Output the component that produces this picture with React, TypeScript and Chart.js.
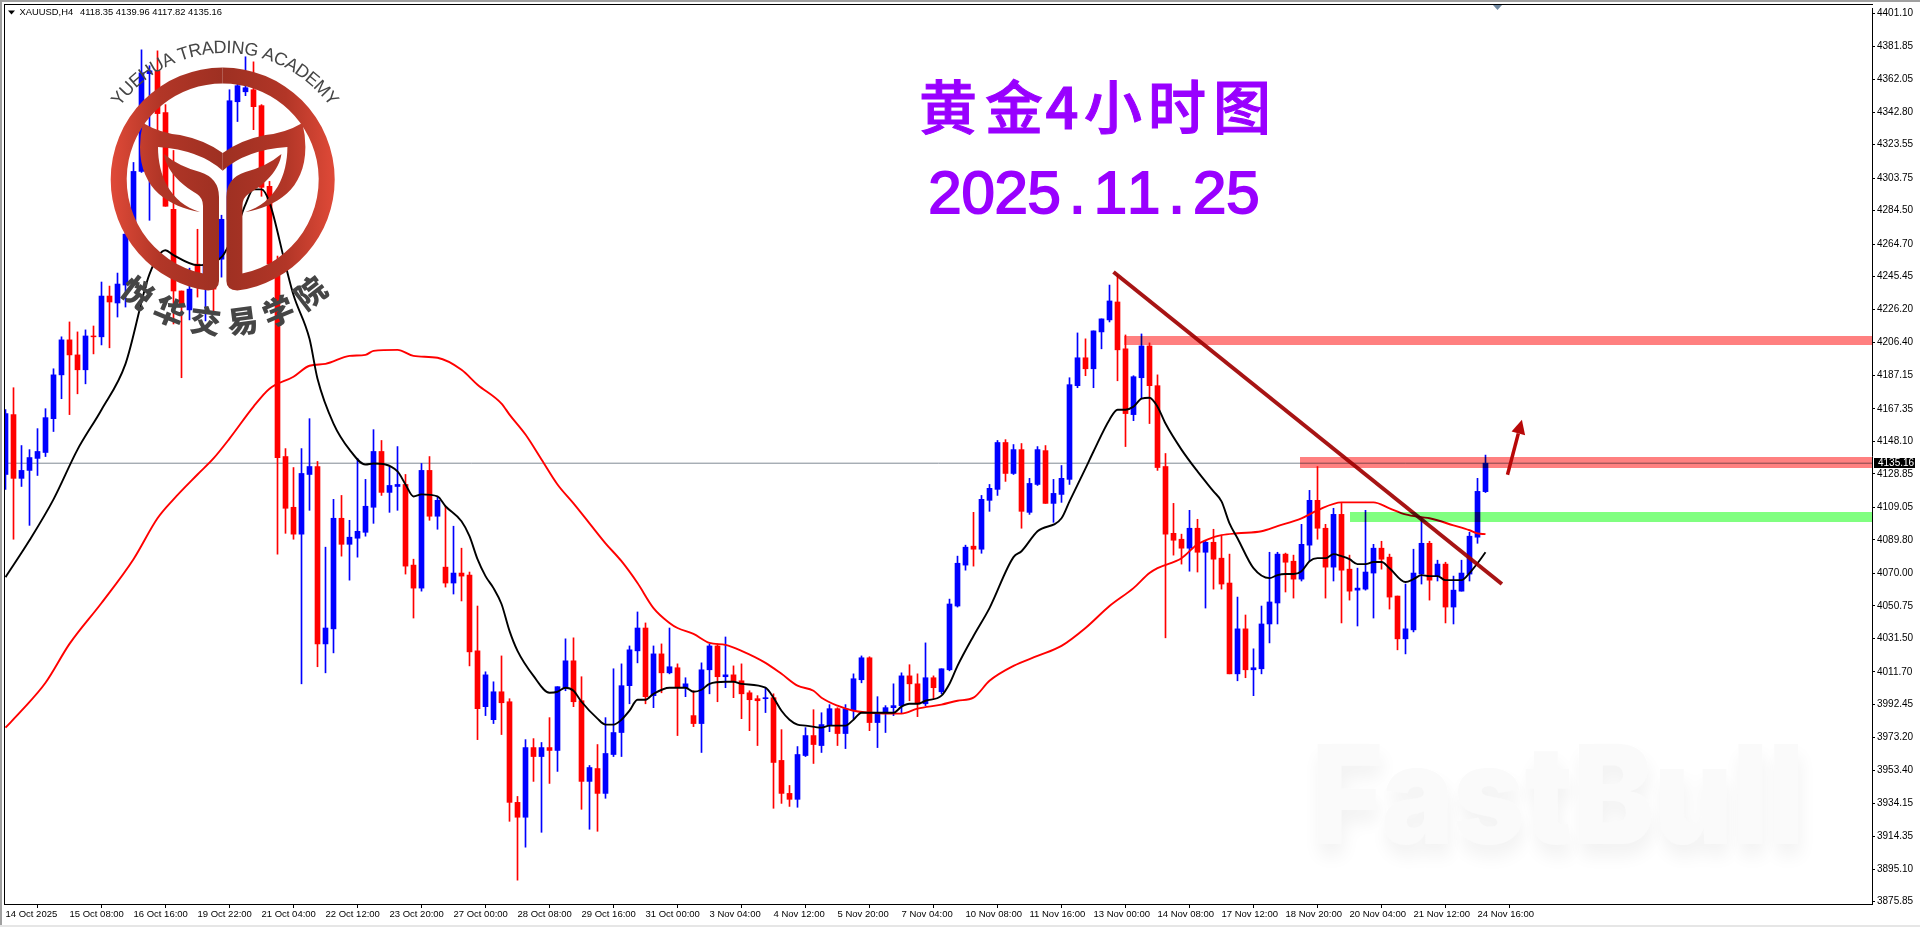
import React, { useEffect, useRef } from "react";
import { Chart, registerables } from "chart.js";

Chart.register(...registerables);

const opens = [
  4128.5, 4163.9, 4126.2, 4130.9, 4138.0, 4141.5, 4161.5, 4187.4, 4208.1, 4199.2,
  4190.4, 4210.4, 4209.9, 4234.0, 4229.9, 4240.5, 4270.6, 4307.7, 4365.5, 4367.2,
  4342.5, 4285.3, 4237.0, 4225.8, 4252.9, 4239.3, 4255.8, 4255.8, 4279.4, 4348.9,
  4354.8, 4356.0, 4346.6, 4298.9, 4252.9, 4139.1, 4109.1, 4093.2, 4128.5, 4133.2,
  4028.3, 4037.2, 4102.6, 4087.2, 4090.8, 4094.3, 4109.1, 4142.1, 4117.9, 4121.4,
  4122.6, 4074.9, 4061.3, 4130.9, 4103.8, 4073.7, 4064.3, 4070.2, 4069.0, 4024.2,
  3991.2, 3983.5, 4000.0, 3994.1, 3934.6, 3925.8, 3967.0, 3961.7, 3967.0, 3965.3,
  4002.4, 4018.3, 3994.7, 3947.0, 3954.6, 3939.9, 3962.9, 3975.9, 4003.6, 4024.2,
  4037.7, 3997.7, 4022.4, 4011.2, 4014.2, 4002.4, 3985.9, 3981.2, 4013.0, 4027.1,
  4008.9, 4010.0, 4006.5, 3999.4, 3995.9, 3995.9, 3996.5, 3959.4, 3939.9, 3936.4,
  3962.3, 3974.1, 3968.2, 3980.0, 3990.0, 3975.3, 3988.8, 4007.1, 4020.1, 3981.8,
  3987.1, 3990.6, 3991.8, 4009.4, 4004.7, 3992.9, 4008.3, 4000.0, 4013.0, 4050.7,
  4074.9, 4086.1, 4084.3, 4113.2, 4119.7, 4147.4, 4129.1, 4143.2, 4106.1, 4122.6,
  4142.6, 4111.4, 4116.7, 4125.6, 4181.0, 4197.5, 4191.0, 4212.8, 4219.9, 4230.5,
  4202.8, 4163.9, 4185.7, 4204.5, 4181.0, 4133.2, 4093.7, 4090.2, 4084.9, 4096.7,
  4082.5, 4088.4, 4079.0, 4064.3, 4010.6, 4037.2, 4013.0, 4013.6, 4040.1, 4052.5,
  4081.4, 4077.2, 4066.6, 4086.7, 4113.2, 4096.7, 4073.7, 4104.9, 4072.5, 4060.1,
  4060.7, 4070.2, 4084.9, 4079.6, 4056.6, 4031.3, 4036.6, 4069.6, 4087.8, 4068.4,
  4075.5, 4050.1, 4059.5, 4069.6, 4091.4, 4118.35,
];

const closes = [
  4164.5, 4126.2, 4130.9, 4138.5, 4142.1, 4162.1, 4187.4, 4208.1, 4199.2, 4190.4,
  4210.4, 4209.9, 4234.0, 4230.5, 4241.1, 4270.6, 4307.7, 4366.0, 4367.2, 4341.9,
  4287.1, 4237.0, 4227.5, 4238.1, 4245.8, 4252.9, 4238.1, 4279.4, 4349.5, 4358.4,
  4357.2, 4346.0, 4298.3, 4252.9, 4138.5, 4108.5, 4093.2, 4129.1, 4133.2, 4028.3,
  4037.7, 4102.6, 4087.2, 4091.4, 4094.9, 4109.7, 4142.1, 4117.9, 4122.0, 4122.6,
  4074.3, 4061.3, 4130.9, 4103.8, 4113.2, 4064.3, 4070.2, 4068.4, 4023.6, 3990.0,
  4010.0, 4000.0, 3993.5, 3934.6, 3925.8, 3967.0, 3961.7, 3967.0, 3965.3, 4003.0,
  4018.3, 3994.1, 3947.0, 3955.2, 3939.9, 3963.5, 3975.9, 4003.6, 4024.8, 4037.7,
  3997.1, 4022.4, 4011.2, 4014.8, 4002.4, 4004.7, 3981.2, 4013.0, 4027.1, 4008.9,
  4010.0, 4006.5, 3998.8, 3995.3, 3994.7, 3996.5, 3958.2, 3939.9, 3936.4, 3962.9,
  3974.1, 3968.8, 3980.6, 3990.0, 3975.3, 3990.0, 4007.7, 4020.1, 3981.8, 3987.6,
  3990.6, 3991.8, 4009.4, 4004.7, 3992.9, 4008.3, 4002.4, 4013.6, 4051.9, 4076.0,
  4085.5, 4084.3, 4113.8, 4120.3, 4147.4, 4129.1, 4143.2, 4106.7, 4123.2, 4143.2,
  4111.4, 4117.3, 4126.2, 4181.6, 4197.5, 4191.0, 4213.4, 4220.5, 4231.1, 4202.2,
  4164.5, 4186.3, 4204.5, 4181.0, 4132.6, 4093.2, 4089.6, 4084.9, 4096.7, 4082.5,
  4088.4, 4078.4, 4063.7, 4010.6, 4037.2, 4013.0, 4014.2, 4040.1, 4053.1, 4081.4,
  4076.6, 4066.6, 4087.2, 4113.2, 4096.7, 4073.7, 4104.9, 4071.9, 4059.5, 4061.3,
  4070.8, 4084.9, 4078.4, 4056.0, 4031.3, 4037.2, 4070.2, 4087.8, 4066.0, 4075.5,
  4050.1, 4060.1, 4070.2, 4092.0, 4118.5, 4135.16,
];

const highs = [
  4166.8, 4179.8, 4145.6, 4143.2, 4155.6, 4167.4, 4191.0, 4209.9, 4218.7, 4212.8,
  4214.0, 4216.3, 4242.3, 4239.9, 4247.6, 4272.9, 4313.0, 4379.6, 4370.2, 4379.0,
  4347.2, 4320.1, 4237.0, 4250.5, 4273.5, 4268.8, 4277.6, 4281.8, 4356.0, 4360.1,
  4375.5, 4372.5, 4347.2, 4301.8, 4257.6, 4143.8, 4132.6, 4143.8, 4161.5, 4136.2,
  4085.5, 4113.8, 4116.1, 4101.4, 4138.0, 4125.6, 4155.0, 4148.6, 4133.2, 4145.0,
  4128.5, 4078.4, 4135.0, 4139.1, 4115.0, 4109.7, 4097.9, 4084.9, 4070.8, 4050.7,
  4011.8, 4005.9, 4021.2, 3995.9, 3938.1, 3971.7, 3972.3, 3970.0, 3984.7, 4003.0,
  4031.3, 4031.9, 4008.9, 3956.4, 3968.8, 3984.7, 4013.6, 4016.5, 4027.1, 4047.2,
  4040.7, 4027.1, 4028.3, 4037.7, 4016.5, 4008.3, 4000.6, 4017.1, 4028.3, 4028.3,
  4032.4, 4015.3, 4016.5, 4000.6, 3997.7, 4002.4, 3998.8, 3977.6, 3944.6, 3967.6,
  3978.8, 3989.4, 3987.6, 3992.4, 3990.6, 3992.4, 4010.6, 4021.2, 4020.7, 3997.1,
  3991.8, 4004.7, 4011.2, 4016.0, 4010.6, 4028.9, 4009.4, 4013.6, 4054.8, 4080.2,
  4086.7, 4106.1, 4116.1, 4122.6, 4148.6, 4149.1, 4146.2, 4146.8, 4126.2, 4145.0,
  4145.6, 4125.6, 4133.8, 4185.7, 4212.2, 4208.7, 4213.4, 4220.5, 4240.5, 4246.4,
  4211.0, 4186.9, 4211.6, 4206.3, 4187.4, 4140.9, 4111.4, 4093.2, 4107.3, 4102.0,
  4089.6, 4096.1, 4092.0, 4081.4, 4056.0, 4045.4, 4025.4, 4050.7, 4082.5, 4082.5,
  4082.0, 4080.8, 4099.0, 4119.1, 4133.2, 4099.0, 4108.5, 4111.4, 4080.8, 4073.1,
  4107.3, 4087.2, 4089.0, 4081.4, 4056.6, 4063.7, 4084.3, 4102.6, 4089.0, 4077.8,
  4076.6, 4068.4, 4077.8, 4094.3, 4126.2, 4139.96,
];

const lows = [
  4119.7, 4090.2, 4121.4, 4098.4, 4127.9, 4139.1, 4153.9, 4173.3, 4163.9, 4176.2,
  4182.1, 4199.8, 4205.1, 4203.4, 4221.6, 4227.5, 4270.0, 4307.1, 4278.8, 4330.7,
  4287.1, 4217.5, 4185.7, 4219.9, 4233.4, 4219.3, 4224.6, 4245.2, 4278.8, 4337.2,
  4352.5, 4332.4, 4293.0, 4252.3, 4081.4, 4093.7, 4090.2, 4004.7, 4107.3, 4014.8,
  4011.2, 4023.0, 4080.2, 4066.0, 4079.6, 4092.0, 4099.6, 4116.1, 4106.1, 4107.3,
  4069.6, 4043.6, 4059.5, 4101.4, 4096.1, 4061.9, 4057.8, 4053.7, 4015.3, 3971.7,
  3985.9, 3981.2, 3974.7, 3923.4, 3888.6, 3908.1, 3947.0, 3916.9, 3945.8, 3952.9,
  4000.6, 3991.2, 3930.5, 3918.7, 3917.5, 3937.0, 3961.7, 3961.7, 3992.9, 4017.1,
  3992.9, 3990.6, 3999.4, 4010.6, 3974.1, 3997.1, 3979.4, 3964.1, 3998.8, 3994.1,
  4002.4, 3996.5, 3984.1, 3977.0, 3968.2, 3987.7, 3931.1, 3934.0, 3932.2, 3931.7,
  3961.7, 3957.6, 3964.1, 3976.4, 3968.2, 3966.4, 3984.1, 4005.3, 3977.0, 3967.0,
  3975.9, 3985.9, 3987.1, 3994.7, 3985.3, 3991.8, 3995.9, 3998.8, 4012.4, 4050.1,
  4071.9, 4074.3, 4081.9, 4106.7, 4116.1, 4124.4, 4128.5, 4096.7, 4104.9, 4122.0,
  4111.4, 4100.2, 4112.0, 4122.6, 4179.8, 4186.9, 4179.8, 4202.8, 4218.7, 4183.9,
  4145.0, 4160.3, 4173.3, 4158.6, 4130.9, 4031.9, 4080.8, 4075.5, 4071.3, 4070.8,
  4049.5, 4060.7, 4060.7, 4010.6, 4006.5, 4008.3, 3997.7, 4010.6, 4028.9, 4040.1,
  4059.0, 4055.4, 4065.5, 4077.2, 4090.2, 4055.4, 4065.5, 4040.7, 4054.2, 4038.9,
  4060.1, 4043.6, 4072.5, 4048.9, 4024.8, 4022.4, 4035.4, 4063.7, 4054.2, 4065.5,
  4040.7, 4040.1, 4059.5, 4065.5, 4087.8, 4117.82,
];

const blackBars = [
  0, 3, 6, 9, 12, 15, 18, 20, 21, 24, 27, 29, 30, 31, 32, 33, 35, 36, 38, 39, 41, 43, 45, 46, 49, 50, 51, 52, 54, 55,
  57, 58, 59, 60, 61, 62, 63, 64, 66, 68, 69, 70, 71, 72, 74, 75, 76, 77, 78, 79, 80, 81, 83, 85, 86, 87, 88, 90, 91, 92,
  95, 96, 97, 98, 99, 100, 102, 103, 105, 106, 107, 111, 112, 113, 114, 115, 117, 118, 119, 121, 123, 126, 127, 129, 132, 133, 135, 136, 138, 139,
  140, 141, 142, 143, 144, 145, 147, 149, 151, 152, 153, 154, 156, 158, 159, 160, 161, 162, 163, 164, 165, 166, 167, 168, 169, 170, 171, 172, 173, 175,
  176, 177, 178, 179, 180, 182, 183, 184, 185,
];
const blackPrices = [
  4067.8, 4089.6, 4113.8, 4143.2, 4166.8, 4193.9, 4247.0, 4261.1, 4258.2, 4252.3, 4257.0, 4275.9, 4288.2, 4297.1, 4297.1, 4289.4, 4252.3, 4234.6, 4208.7, 4185.1, 4158.6, 4143.2, 4134.4, 4135.0, 4130.3, 4122.6, 4115.5, 4116.7, 4115.5, 4109.7,
  4100.8, 4092.0, 4078.4, 4068.4, 4061.3, 4051.9, 4036.0, 4024.2, 4009.4, 3999.4, 4000.0, 4002.4, 4000.6, 3994.1, 3984.1, 3980.6, 3980.6, 3983.5, 3988.8, 3995.3, 3995.3, 3998.8, 4002.4, 4002.4, 4000.0, 4001.2, 4004.7, 4005.9, 4005.9, 4004.7,
  4002.4, 3996.5, 3988.8, 3983.5, 3980.6, 3980.0, 3978.8, 3980.0, 3980.0, 3983.5, 3987.6, 3987.6, 3991.2, 3992.9, 3992.9, 3994.7, 3997.7, 4004.7, 4015.3, 4033.0, 4049.5, 4079.6, 4083.1, 4094.9, 4102.6, 4112.6, 4132.1, 4142.1, 4160.9, 4166.8,
  4166.8, 4168.6, 4173.3, 4173.9, 4168.6, 4158.6, 4143.2, 4130.3, 4118.5, 4112.6, 4099.6, 4090.8, 4073.1, 4067.2, 4069.0, 4069.6, 4069.6, 4071.3, 4077.2, 4079.0, 4079.0, 4081.4, 4080.2, 4078.4, 4075.5, 4075.5, 4076.7, 4076.7, 4073.1, 4064.9,
  4066.6, 4069.0, 4068.4, 4068.4, 4066.0, 4066.0, 4070.2, 4076.0, 4082.5,
];

const redBars = [
  0, 2, 5, 8, 12, 16, 19, 21, 24, 26, 28, 31, 33, 36, 38, 40, 43, 45, 46, 49, 51, 54, 57, 59, 62, 63, 65, 67, 69, 71,
  73, 75, 77, 79, 81, 83, 84, 86, 88, 90, 92, 95, 97, 99, 101, 102, 104, 106, 108, 112, 114, 117, 119, 121, 123, 126, 129, 132, 135, 138,
  141, 143, 144, 147, 149, 151, 152, 154, 157, 159, 162, 164, 167, 171, 173, 175, 177, 178, 181, 183, 184, 185,
];
const redPrices = [
  3978.8, 3988.8, 4005.3, 4028.3, 4052.5, 4078.4, 4102.6, 4113.8, 4128.5, 4138.0, 4149.7, 4168.6, 4179.2, 4186.3, 4192.8, 4193.9, 4198.6, 4199.2, 4201.6, 4202.2, 4198.6, 4197.5, 4190.4, 4181.6, 4170.4, 4163.9, 4152.1, 4137.4, 4122.6, 4111.4,
  4099.6, 4087.8, 4077.2, 4064.3, 4049.5, 4040.7, 4037.7, 4034.2, 4028.9, 4027.7, 4024.2, 4017.1, 4010.6, 4003.6, 4000.6, 3996.5, 3991.8, 3988.8, 3987.6, 3987.1, 3990.0, 3992.4, 3994.7, 3996.5, 4006.5, 4015.3, 4021.2, 4027.1, 4037.7, 4050.7,
  4061.3, 4070.2, 4073.1, 4079.0, 4087.2, 4091.4, 4092.6, 4093.7, 4094.9, 4097.9, 4102.6, 4107.3, 4112.0, 4112.0, 4108.5, 4104.9, 4103.2, 4102.6, 4098.4, 4095.5, 4093.7, 4093.2,
];

const dateLabels = [
  "14 Oct 2025", "15 Oct 08:00", "16 Oct 16:00", "19 Oct 22:00", "21 Oct 04:00", "22 Oct 12:00", "23 Oct 20:00", "27 Oct 00:00",
  "28 Oct 08:00", "29 Oct 16:00", "31 Oct 00:00", "3 Nov 04:00", "4 Nov 12:00", "5 Nov 20:00", "7 Nov 04:00", "10 Nov 08:00",
  "11 Nov 16:00", "13 Nov 00:00", "14 Nov 08:00", "17 Nov 12:00", "18 Nov 20:00", "20 Nov 04:00", "21 Nov 12:00", "24 Nov 16:00",
];
const dateTickBars = [0, 8, 16, 24, 32, 40, 48, 56, 64, 72, 80, 88, 96, 104, 112, 120, 128, 136, 144, 152, 160, 168, 176, 184];

const priceTicks = [
  4401.1, 4381.85, 4362.05, 4342.8, 4323.55, 4303.75, 4284.5, 4264.7, 4245.45, 4226.2, 4206.4, 4187.15, 4167.35, 4148.1,
  4128.85, 4109.05, 4089.8, 4070.0, 4050.75, 4031.5, 4011.7, 3992.45, 3973.2, 3953.4, 3934.15, 3914.35, 3895.1, 3875.85,
];

const lastPrice = 4135.16;
const trendBars = [138.5, 187.05];
const trendPrices = [4248.2, 4063.7];
const arrowBars = [187.75, 189.55];
const arrowPrices = [4128.3, 4160.8];
const zoneStarts = [139.8, 161.8, 168];
const zoneTops = [4210.4, 4139.1, 4106.1];
const zoneBottoms = [4205.1, 4132.1, 4100.2];
const zoneColors = ["#ff8080", "#ff8080", "#80ff80"];

const SANS = "'Liberation Sans', Arial, sans-serif";

function arcLabelTop(ctx: any, text: string, cx: number, cy: number, r: number, span: number) {
  const chars = Array.from(text);
  const widths = chars.map((c) => ctx.measureText(c).width);
  const total = widths.reduce((a, b) => a + b, 0);
  let run = 0;
  chars.forEach((c, i) => {
    const mid = run + widths[i] / 2;
    run += widths[i];
    const ang = (mid / total - 0.5) * span;
    ctx.save();
    ctx.translate(cx + Math.sin(ang) * r, cy - Math.cos(ang) * r);
    ctx.rotate(ang);
    ctx.fillText(c, 0, 0);
    ctx.restore();
  });
}

function drawLogo(ctx: any) {
  const cx = 222.7;
  const cy = 179.5;
  const grad = ctx.createLinearGradient(110, 0, 335, 0);
  grad.addColorStop(0, "#e04a38");
  grad.addColorStop(0.22, "#b23627");
  grad.addColorStop(0.5, "#9e3022");
  grad.addColorStop(0.78, "#b23627");
  grad.addColorStop(1, "#e04a38");
  const half = () => {
    ctx.beginPath();
    ctx.arc(cx, cy, 112, -Math.PI / 2, (97.5 * Math.PI) / 180, true);
    ctx.quadraticCurveTo(219, 290, 219, 281);
    ctx.lineTo(219, 197);
    ctx.quadraticCurveTo(219, 178, 200, 172);
    ctx.quadraticCurveTo(178, 166, 164, 154);
    ctx.bezierCurveTo(166, 170, 180, 184, 197, 194);
    ctx.quadraticCurveTo(203, 198, 203, 206);
    ctx.lineTo(203, 273.5);
    ctx.arc(cx, cy, 96, (101.7 * Math.PI) / 180, (270 * Math.PI) / 180, false);
    ctx.closePath();
    ctx.fill();
    ctx.beginPath();
    ctx.moveTo(143, 123);
    ctx.quadraticCurveTo(160, 133, 180, 135);
    ctx.quadraticCurveTo(205, 140, 222.7, 153);
    ctx.lineTo(222.7, 170.7);
    ctx.quadraticCurveTo(200, 150, 158, 147);
    ctx.bezierCurveTo(158, 175, 170, 203, 200, 212);
    ctx.bezierCurveTo(170, 207, 140, 190, 140, 147);
    ctx.quadraticCurveTo(140, 135, 143, 123);
    ctx.closePath();
    ctx.fill();
  };
  ctx.save();
  ctx.fillStyle = grad;
  half();
  ctx.translate(2 * cx, 0);
  ctx.scale(-1, 1);
  half();
  ctx.restore();

  ctx.save();
  ctx.fillStyle = "#454545";
  ctx.textAlign = "center";
  ctx.textBaseline = "alphabetic";
  ctx.font = `18px ${SANS}`;
  arcLabelTop(ctx, "YUEHUA TRADING ACADEMY", 225, 183, 130, (108 * Math.PI) / 180);
  ctx.font = "900 31px 'Noto Sans CJK SC', sans-serif";
  ctx.textBaseline = "middle";
  Array.from("悦华交易学院").forEach((c, i) => {
    const deg = -37.5 + i * 15;
    const a = (deg * Math.PI) / 180;
    ctx.save();
    ctx.translate(224 + Math.sin(a) * 142, 180 + Math.cos(a) * 142);
    ctx.rotate(-a);
    ctx.fillText(c, 0, 0);
    ctx.restore();
  });
  ctx.restore();
}

const decorPlugin = {
  id: "decor",
  beforeDatasetsDraw(chart: any) {
    const ctx = chart.ctx;
    ctx.save();
    ctx.font = "900 137px Inter, 'Liberation Sans', sans-serif";
    ctx.textBaseline = "alphabetic";
    ctx.textAlign = "left";
    const w = ctx.measureText("FastBull").width;
    ctx.translate(1312, 844);
    ctx.scale(492 / w, 1);
    ctx.shadowColor = "rgba(0,0,0,0.055)";
    ctx.shadowBlur = 18;
    ctx.shadowOffsetX = 2;
    ctx.shadowOffsetY = 12;
    ctx.fillStyle = "#fafafa";
    ctx.fillText("FastBull", 0, 0);
    ctx.restore();
  },
  afterDatasetsDraw(chart: any) {
    const ctx = chart.ctx;
    const xs = chart.scales.x;
    const ys = chart.scales.y;
    const area = chart.chartArea;

    ctx.save();
    ctx.globalCompositeOperation = "multiply";
    zoneStarts.forEach((s, i) => {
      const x0 = Math.round(xs.getPixelForValue(s));
      const t = Math.round(ys.getPixelForValue(zoneTops[i]));
      const b = Math.round(ys.getPixelForValue(zoneBottoms[i]));
      ctx.fillStyle = zoneColors[i];
      ctx.fillRect(x0, t, area.right - x0, b - t);
    });
    ctx.restore();

    // arrow
    const ax0 = xs.getPixelForValue(arrowBars[0]);
    const ay0 = ys.getPixelForValue(arrowPrices[0]);
    const ax1 = xs.getPixelForValue(arrowBars[1]);
    const ay1 = ys.getPixelForValue(arrowPrices[1]);
    const ang = Math.atan2(ay1 - ay0, ax1 - ax0);
    const back = 14;
    const wing = 7;
    const bx = ax1 - Math.cos(ang) * back;
    const by = ay1 - Math.sin(ang) * back;
    ctx.save();
    ctx.strokeStyle = "#b80808";
    ctx.fillStyle = "#b80808";
    ctx.lineWidth = 3.5;
    ctx.beginPath();
    ctx.moveTo(ax0, ay0);
    ctx.lineTo(bx, by);
    ctx.stroke();
    ctx.beginPath();
    ctx.moveTo(ax1, ay1);
    ctx.lineTo(bx + Math.sin(ang) * wing, by - Math.cos(ang) * wing);
    ctx.lineTo(bx - Math.sin(ang) * wing, by + Math.cos(ang) * wing);
    ctx.closePath();
    ctx.fill();
    ctx.restore();

    drawLogo(ctx);

    // titles
    ctx.save();
    ctx.fillStyle = "#9900ff";
    ctx.strokeStyle = "#9900ff";
    ctx.textAlign = "center";
    ctx.textBaseline = "middle";
    ctx.font = "500 58px 'Noto Sans CJK SC', sans-serif";
    ctx.lineWidth = 1;
    const titleChars = Array.from("黄金4小时图");
    const titleX = [948, 1014, 1062, 1113, 1177, 1242];
    titleChars.forEach((c, i) => {
      ctx.fillText(c, titleX[i], 107);
      ctx.strokeText(c, titleX[i], 107);
    });
    ctx.textBaseline = "alphabetic";
    ctx.font = `400 60px ${SANS}`;
    ctx.lineWidth = 1.8;
    Array.from("2025.11.25").forEach((c, i) => {
      ctx.fillText(c, 945 + i * 33.1, 212.5);
      ctx.strokeText(c, 945 + i * 33.1, 212.5);
    });
    ctx.restore();

    // header
    ctx.save();
    ctx.fillStyle = "#000";
    ctx.beginPath();
    ctx.moveTo(8, 10.5);
    ctx.lineTo(15, 10.5);
    ctx.lineTo(11.5, 14.5);
    ctx.closePath();
    ctx.fill();
    ctx.font = `9.4px ${SANS}`;
    ctx.textBaseline = "middle";
    ctx.textAlign = "left";
    ctx.fillText("XAUUSD,H4", 19.5, 12.5);
    ctx.fillText("4118.35 4139.96 4117.82 4135.16", 80, 12.5);
    ctx.restore();

    // shift marker
    ctx.save();
    ctx.fillStyle = "#7088a0";
    ctx.beginPath();
    ctx.moveTo(1493, 5);
    ctx.lineTo(1502, 5);
    ctx.lineTo(1497.5, 10);
    ctx.closePath();
    ctx.fill();
    ctx.restore();

    // frame
    ctx.save();
    ctx.fillStyle = "#000";
    ctx.fillRect(4, 4, area.right - 3, 1);
    ctx.fillRect(4, 4, 1, area.bottom - 3);
    ctx.fillStyle = "#a0a0a0";
    ctx.fillRect(0, 0, 1920, 2);
    ctx.fillRect(0, 0, 2, 927);
    ctx.fillStyle = "#e6e6e6";
    ctx.fillRect(0, 925, 1920, 2);
    ctx.restore();
  },
  afterDraw(chart: any) {
    const ctx = chart.ctx;
    const ys = chart.scales.y;
    const y = Math.round(ys.getPixelForValue(lastPrice));
    ctx.save();
    ctx.fillStyle = "#000";
    ctx.fillRect(1874, y - 5, 41, 10);
    ctx.fillStyle = "#fff";
    ctx.font = `10px ${SANS}`;
    ctx.textBaseline = "middle";
    ctx.fillText(lastPrice.toFixed(2), 1878, y + 0.5);
    ctx.restore();
  },
};

export default function App() {
  const ref = useRef<HTMLCanvasElement | null>(null);

  useEffect(() => {
    document.body.style.margin = "0";
    document.body.style.background = "#fff";
    const canvas = ref.current!;
    const barColors = opens.map((o, i) => (closes[i] >= o ? "#0000ff" : "#ff0000"));
    const xMin = -0.0625;
    const xMax = 233.3125;
    const chart = new Chart(canvas, {
      data: {
        datasets: [
          {
            type: "line",
            order: 0,
            data: trendBars.map((x, i) => ({ x, y: trendPrices[i] })),
            borderColor: "rgba(160,0,0,0.92)",
            borderWidth: 4,
            pointRadius: 0,
          },
          {
            type: "line",
            order: 1,
            data: blackBars.map((x, i) => ({ x, y: blackPrices[i] })),
            borderColor: "#000000",
            borderWidth: 1.9,
            cubicInterpolationMode: "monotone",
            pointRadius: 0,
          },
          {
            type: "line",
            order: 2,
            data: redBars.map((x, i) => ({ x, y: redPrices[i] })),
            borderColor: "#ff0000",
            borderWidth: 1.9,
            cubicInterpolationMode: "monotone",
            pointRadius: 0,
          },
          {
            type: "bar",
            order: 3,
            grouped: false,
            barThickness: 5,
            data: opens.map((o, i) => ({ x: i, y: [o, closes[i]] })),
            backgroundColor: barColors,
          },
          {
            type: "bar",
            order: 4,
            grouped: false,
            barThickness: 1,
            data: opens.map((_, i) => ({ x: i, y: [lows[i], highs[i]] })),
            backgroundColor: barColors,
          },
          {
            type: "line",
            order: 5,
            data: [
              { x: xMin, y: lastPrice },
              { x: xMax, y: lastPrice },
            ],
            borderColor: "#808a94",
            borderWidth: 1,
            pointRadius: 0,
          },
        ] as any,
      },
      options: {
        animation: false,
        responsive: false,
        devicePixelRatio: 1,
        layout: { padding: { left: 5, top: 5, right: 0, bottom: 0 } },
        plugins: { legend: { display: false }, tooltip: { enabled: false } },
        events: [],
        scales: {
          x: {
            type: "linear",
            min: xMin,
            max: xMax,
            offset: false,
            afterBuildTicks: (axis: any) => {
              axis.ticks = dateTickBars.map((value) => ({ value }));
            },
            afterFit: (axis: any) => {
              axis.height = 23;
            },
            grid: { drawOnChartArea: false, drawTicks: true, tickLength: 4, color: "#000" },
            border: { display: true, color: "#000", width: 1 },
            ticks: {
              autoSkip: false,
              maxRotation: 0,
              minRotation: 0,
              align: "start",
              padding: 1,
              color: "#000",
              font: { family: SANS, size: 9.5 },
              callback: (_v: any, i: number) => dateLabels[i],
            },
          },
          y: {
            type: "linear",
            position: "right",
            min: 3874.5,
            max: 4404.34,
            afterBuildTicks: (axis: any) => {
              axis.ticks = priceTicks.map((value) => ({ value }));
            },
            afterFit: (axis: any) => {
              axis.width = 48;
            },
            grid: { drawOnChartArea: false, drawTicks: true, tickLength: 3, color: "#000" },
            border: { display: true, color: "#000", width: 1 },
            ticks: {
              autoSkip: false,
              padding: 2,
              color: "#000",
              font: { family: SANS, size: 10 },
              callback: (v: any) => Number(v).toFixed(2),
            },
          },
        },
      } as any,
      plugins: [decorPlugin as any],
    });
    return () => chart.destroy();
  }, []);

  return (
    <canvas
      ref={ref}
      width={1920}
      height={927}
      style={{ position: "absolute", left: 0, top: 0, display: "block", width: 1920, height: 927 }}
    />
  );
}
